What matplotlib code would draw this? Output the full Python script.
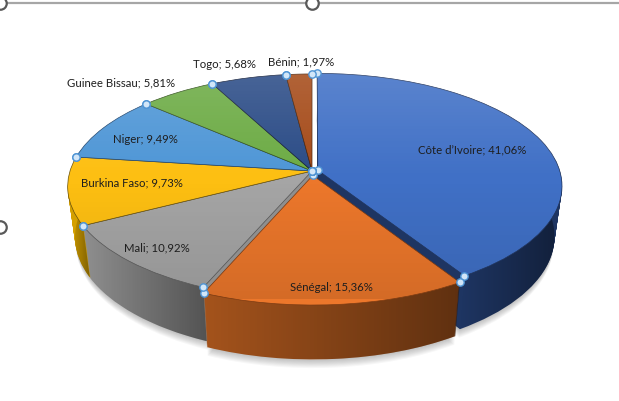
import numpy as np
import matplotlib
matplotlib.use("Agg")
import matplotlib.pyplot as plt
from matplotlib.transforms import Transform
from matplotlib.patches import Polygon

# données
pays = ["Côte d’Ivoire", "Sénégal", "Mali", "Burkina Faso", "Niger",
        "Guinee Bissau", "Togo", "Bénin"]
parts = [41.06, 15.36, 10.92, 9.73, 9.49, 5.81, 5.68, 1.97]

# style
dessus = ["#4070C6", "#EC772B", "#A5A5A5", "#FDBF12", "#4E96D6",
          "#6CAB44", "#2A4B86", "#A54A18"]
cotes = ["#1E3562", "#A4531C", "#8F8F8F", "#D4A000", "#3C6E9E",
         "#4E7A30", "#1A2E55", "#6E3009"]
bords = ["#22355C", "#7A3A12", "#555555", "#6A5412", "#22466E",
         "#34521F", "#16213C", "#4A240C"]
ecart = [0.025, 0.04, 0, 0, 0, 0, 0, 0]
# position des étiquettes (rayon, angle en degrés) dans le plan du camembert
pos_etiq = [(0.71, 16.9), (0.914, -85.7), (0.858, -133.0), (0.742, -172.4),
            (0.776, 157.1), (1.27, 134.4), (1.205, 110.2), (1.156, 92.6)]

CX, CY, RX, RY, P = 312.0, 172.0, 242.0, 110.4, 0.138
EPAISSEUR = 50
RETRAIT = 0.0006  # le fond paraît plus petit (perspective)


class Perspective(Transform):
    input_dims = 2
    output_dims = 2
    is_separable = False
    has_inverse = False

    def __init__(self, prof=0.0):
        super().__init__()
        self.prof = prof

    def transform_non_affine(self, values):
        values = np.asarray(values, dtype=float)
        u, v = values[:, 0], values[:, 1]
        w = 1 + P * v
        s = 1 - RETRAIT * self.prof
        return np.column_stack([CX + RX * s * u / w,
                                CY - RY * s * v / w + self.prof / w])


fig = plt.figure(figsize=(6.19, 4.02), dpi=100)
ax = fig.add_axes([0, 0, 1, 1])

kw = dict(explode=ecart, startangle=90, counterclock=False, labeldistance=None)

# ombre
for d in range(EPAISSEUR + 8, EPAISSEUR, -1):
    wedges, _ = ax.pie(parts, colors=["black"] * len(parts),
                       wedgeprops=dict(linewidth=0, alpha=0.03), **kw)
    for w in wedges:
        w.set_transform(Perspective(d) + ax.transData)
        w.set_zorder(1)

# côtés
for d in range(EPAISSEUR, 0, -1):
    wedges, _ = ax.pie(parts, colors=cotes, wedgeprops=dict(linewidth=0), **kw)
    for w in wedges:
        w.set_transform(Perspective(d) + ax.transData)
        w.set_zorder(2)

# dessus
top, _ = ax.pie(parts, colors=dessus,
                wedgeprops=dict(linewidth=0.5), **kw)
for w, b in zip(top, bords):
    w.set_transform(Perspective(0) + ax.transData)
    w.set_edgecolor(b)
    w.set_zorder(3)

ombre_cote = np.zeros((1, 256, 4))
ombre_cote[..., 3] = np.linspace(0, 0.42, 256)

reflet = np.zeros((256, 1, 4))
t = np.linspace(0, 1, 256)
reflet[:, 0, :3] = np.where(t < 0.5, 1.0, 0.0)[:, None]
reflet[:, 0, 3] = np.where(t < 0.5, 0.16 * (1 - 2 * t), 0.10 * (2 * t - 1))

for w in top:
    cu, cv = w.center
    th = np.radians(np.linspace(w.theta1, w.theta2, 120))
    th = th[np.sin(th) < 0.12]
    if len(th) > 1:
        pts = np.column_stack([cu + np.cos(th), cv + np.sin(th)])
        haut = Perspective(0).transform(pts)
        bas = Perspective(EPAISSEUR).transform(pts)[::-1]
        poly = Polygon(np.vstack([haut, bas]), closed=True,
                       transform=ax.transData, facecolor="none")
        xs = np.concatenate([haut[:, 0], bas[:, 0]])
        ys = np.concatenate([haut[:, 1], bas[:, 1]])
        im = ax.imshow(ombre_cote, extent=(xs.min(), xs.max(), ys.max(), ys.min()),
                       aspect="auto", zorder=2.5, interpolation="bilinear")
        im.set_clip_path(poly)
    im = ax.imshow(reflet, extent=(50, 570, 300, 60), origin="upper",
                   aspect="auto", zorder=3.5, interpolation="bilinear")
    im.set_clip_path(w)

# étiquettes
for nom, val, (r, a) in zip(pays, parts, pos_etiq):
    xy = Perspective(0).transform(np.array([[r * np.cos(np.radians(a)),
                                             r * np.sin(np.radians(a))]]))[0]
    txt = f"{nom}; {val:.2f}%".replace(".", ",")
    ax.text(xy[0], xy[1], txt, ha="center", va="center", fontsize=8.2,
            family=["Lato", "DejaVu Sans"], color="#1E1E1E", zorder=5)

# poignées de sélection
pts = []
for w in top:
    cu, cv = w.center
    pts.append((cu, cv))
    for a in (w.theta1, w.theta2):
        pts.append((cu + np.cos(np.radians(a)), cv + np.sin(np.radians(a))))
pts = Perspective(0).transform(np.array(pts))
ax.scatter(pts[:, 0], pts[:, 1], s=28, facecolor="#D2E6F8",
           edgecolor="#4F94D4", linewidths=1.0, zorder=6)

# cadre du graphique
ax.plot([0, 619], [4, 4], color="#A6A6A6", lw=1.6, zorder=7, clip_on=False)
ax.plot([0, 312, 0], [4, 4, 228], "o", ms=9, mfc="white", mec="#595959",
        mew=1.6, zorder=8, clip_on=False)

ax.set_aspect("auto")
ax.set_xlim(0, 619)
ax.set_ylim(402, 0)
ax.axis("off")

fig.savefig("out.png", dpi=100)
